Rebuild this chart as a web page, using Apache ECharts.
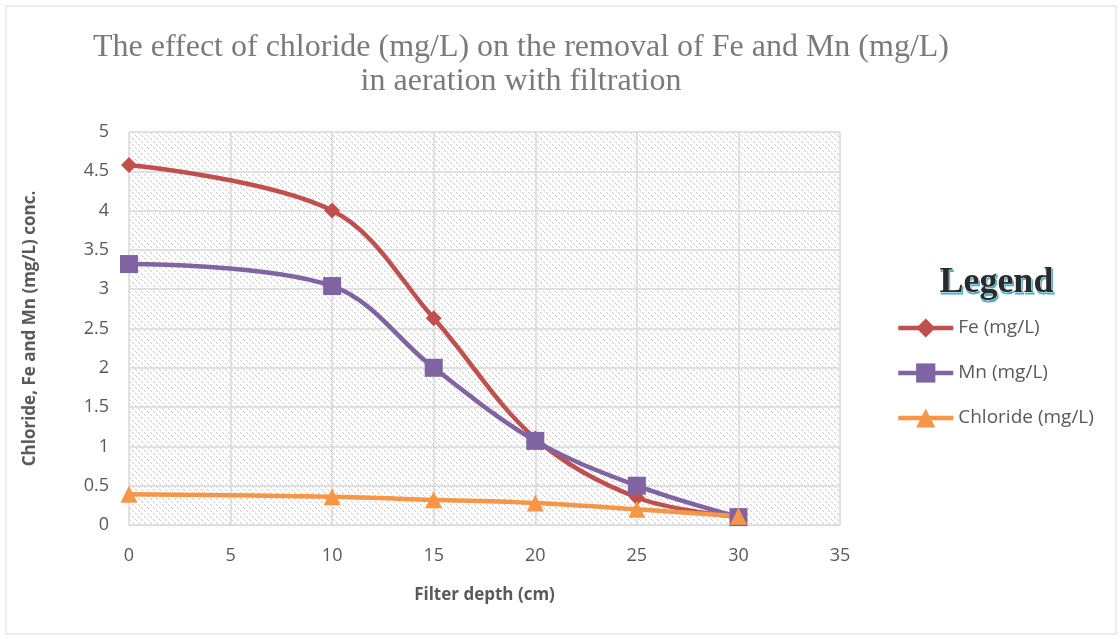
<!DOCTYPE html>
<html>
<head>
<meta charset="utf-8">
<script src="https://cdn.jsdelivr.net/npm/echarts@6/dist/echarts.min.js"></script>
<style>
html, body { margin: 0; padding: 0; background: #fff; }
#chart { width: 1120px; height: 639px; }
</style>
</head>
<body>
<div id="chart"></div>
<script>
var depth = [0, 10, 15, 20, 25, 30];
var fe = [4.58, 4.0, 2.63, 1.1, 0.35, 0.1];
var mn = [3.32, 3.04, 2.0, 1.07, 0.5, 0.1];
var chloride = [0.39, 0.36, 0.32, 0.28, 0.2, 0.11];

function pairs(ys) {
	return depth.map(function (x, i) { return [x, ys[i]]; });
}

// hatch fill for the plot area (dotted downward diagonals)
var hatch = document.createElement('canvas');
hatch.width = 6; hatch.height = 6;
var hc = hatch.getContext('2d');
hc.fillStyle = '#fff';
hc.fillRect(0, 0, 6, 6);
hc.fillStyle = '#c8c8c8';
for (var k = 0; k < 6; k++) {
	if (k % 3 != 2) hc.fillRect(k, k, 1, 1);
}

var chart = echarts.init(document.getElementById('chart'));
var labelFont = { color: '#595959', fontSize: 18, fontFamily: 'Open Sans' };

var option = {
	backgroundColor: '#fff',
	animation: false,
	title: {
		text: 'The effect of chloride (mg/L) on the removal of Fe and Mn (mg/L)\nin aeration with filtration',
		left: 516,
		top: 26,
		textAlign: 'center',
		textStyle: {
			color: '#7a7a7a',
			fontSize: 32,
			fontWeight: 'normal',
			fontFamily: 'Liberation Serif',
			lineHeight: 34
		}
	},
	graphic: [
		{
			type: 'rect',
			shape: { x: 6, y: 6, width: 1110, height: 628 },
			style: { fill: 'none', stroke: '#d9d9d9', lineWidth: 1 },
			silent: true
		},
		// blue shadow copy behind the legend heading
		{
			type: 'text',
			left: 940,
			top: 266.5,
			style: {
				text: 'Legend',
				fill: '#4bacc6',
				stroke: '#4bacc6',
				lineWidth: 1,
				font: 'bold 36px "Liberation Serif"'
			}
		},
		{
			type: 'text',
			left: 939,
			top: 264,
			style: {
				text: 'Legend',
				fill: '#2a2a2a',
				stroke: '#ffffff',
				lineWidth: 0.8,
				font: 'bold 36px "Liberation Serif"'
			}
		}
	],
	legend: {
		orient: 'vertical',
		left: 891,
		top: 309,
		itemGap: 17,
		itemWidth: 55,
		itemHeight: 24,
		lineStyle: { width: 4.5 },
		textStyle: { fontSize: 19, color: '#595959', fontFamily: 'Open Sans', lineHeight: 24, padding: [2, 0, 2, 0] },
		data: ['Fe (mg/L)', 'Mn (mg/L)', 'Chloride (mg/L)']
	},
	grid: {
		left: 129,
		right: 280,
		top: 132,
		bottom: 114,
		show: true,
		borderWidth: 0,
		backgroundColor: { image: hatch, repeat: 'repeat' }
	},
	xAxis: {
		type: 'value',
		min: 0,
		max: 35,
		interval: 5,
		name: 'Filter depth (cm)',
		nameLocation: 'middle',
		nameGap: 62,
		nameTextStyle: { color: '#595959', fontSize: 17, fontWeight: 'bold', fontFamily: 'Open Sans' },
		axisLine: { lineStyle: { color: '#d9d9d9' } },
		axisTick: { show: false },
		axisLabel: Object.assign({ margin: 22 }, labelFont),
		splitLine: { show: true, lineStyle: { color: '#d9d9d9', width: 1.5 } }
	},
	yAxis: {
		type: 'value',
		min: 0,
		max: 5,
		interval: 0.5,
		name: 'Chloride, Fe and Mn (mg/L) conc.',
		nameLocation: 'middle',
		nameGap: 90,
		nameTextStyle: { color: '#595959', fontSize: 17, fontWeight: 'bold', fontFamily: 'Open Sans' },
		axisLine: { show: false },
		axisTick: { show: false },
		axisLabel: Object.assign({ margin: 20 }, labelFont),
		splitLine: { show: true, lineStyle: { color: '#d9d9d9', width: 1.5 } }
	},
	series: [
		{
			name: 'Fe (mg/L)',
			type: 'line',
			smooth: 0.35,
			data: pairs(fe),
			symbol: 'diamond',
			symbolSize: 16,
			lineStyle: { color: '#c0504d', width: 4.5 },
			itemStyle: { color: '#c0504d' }
		},
		{
			name: 'Mn (mg/L)',
			type: 'line',
			smooth: 0.35,
			data: pairs(mn),
			symbol: 'rect',
			symbolSize: 18,
			lineStyle: { color: '#8064a2', width: 4.5 },
			itemStyle: { color: '#8064a2' }
		},
		{
			name: 'Chloride (mg/L)',
			type: 'line',
			smooth: 0.35,
			data: pairs(chloride),
			symbol: 'triangle',
			symbolSize: 17,
			lineStyle: { color: '#f79646', width: 4.5 },
			itemStyle: { color: '#f79646' }
		}
	]
};

chart.setOption(option);
</script>
</body>
</html>
